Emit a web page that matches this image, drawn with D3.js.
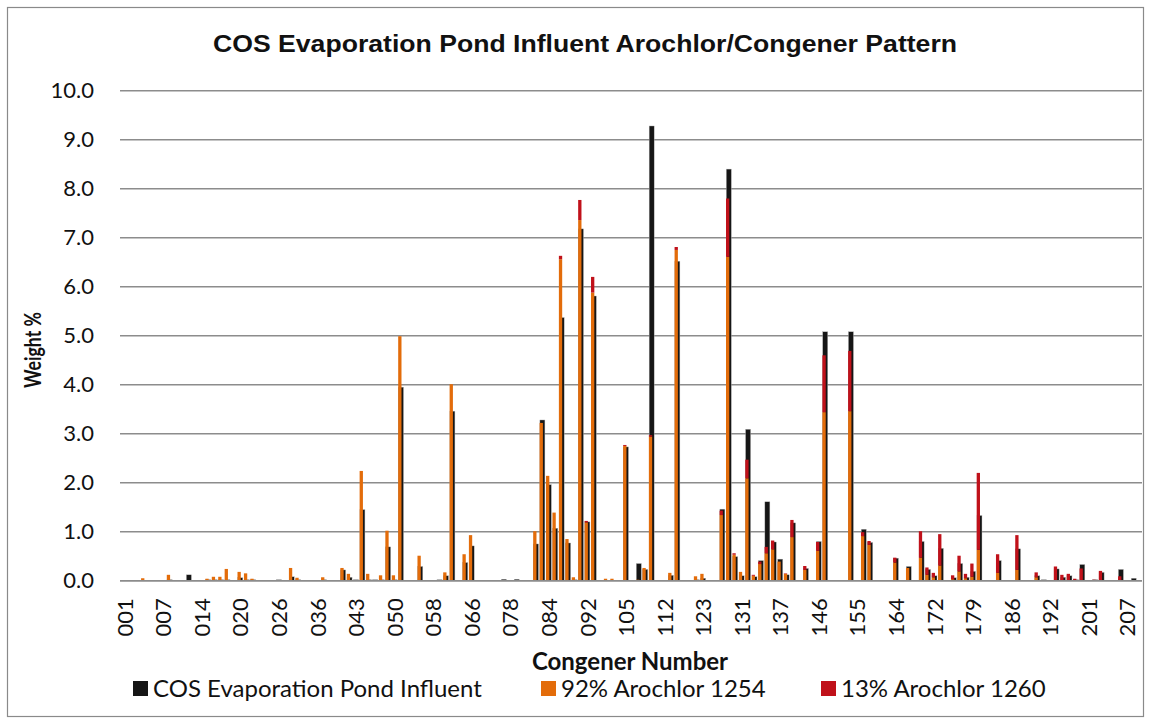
<!DOCTYPE html>
<html>
<head>
<meta charset="utf-8">
<script src="https://cdn.jsdelivr.net/npm/d3@7"></script>
<style>
  body { margin: 0; background: #fff; }
  text { font-family: Lato, "Open Sans", sans-serif; fill: #111; }
</style>
</head>
<body>
<div id="container"></div>
<script>
/* CONSTANTS AND GLOBALS */
const width = 1151,
  height = 724,
  margin = { top: 90.7, bottom: 143.3, left: 120, right: 9 }

// congener labels (co-eluting groups labelled by their first congener)
const congeners = [
  "001","002","003","004","005","006","007","008","009","010","011","012",
  "014","015","016","017","018","019","020","021","022","023","024","025",
  "026","027","031","032","034","035","036","037","038","039","040","042",
  "043","044","045","046","048","049","050","052","054","055","056","057",
  "058","059","060","061","063","064","066","067","068","072","073","077",
  "078","079","080","081","082","083","084","085","086","088","089","090",
  "092","093","094","096","103","104","105","106","107","109","110","111",
  "112","114","118","120","121","122","123","126","127","128","129","130",
  "131","132","133","134","135","136","137","139","141","142","144","145",
  "146","147","148","150","152","153","155","156","158","159","161","162",
  "164","165","167","169","170","171","172","174","175","176","177","178",
  "179","180","181","182","183","184","186","187","188","189","190","191",
  "192","194","195","196","197","198","201","202","203","204","205","206",
  "207","208","209"
];

// COS Evaporation Pond Influent, weight %
const influent = [
  0, 0, 0, 0.01, 0, 0, 0, 0.02, 0, 0, 0.12, 0,
  0, 0.02, 0.02, 0.02, 0.02, 0, 0.06, 0.02, 0.02, 0, 0, 0,
  0.02, 0, 0.08, 0.02, 0, 0, 0, 0.02, 0, 0, 0.22, 0.07,
  0.02, 1.45, 0.02, 0.02, 0.02, 0.69, 0.02, 3.95, 0, 0, 0.29, 0,
  0, 0.02, 0.10, 3.46, 0, 0.37, 0.71, 0, 0, 0, 0, 0.03,
  0, 0.03, 0, 0, 0.75, 3.28, 1.96, 1.07, 5.37, 0.77, 0.02, 7.18,
  1.20, 5.81, 0.01, 0.01, 0.01, 0, 2.73, 0, 0.35, 0.23, 9.28, 0,
  0, 0.11, 6.52, 0, 0, 0.02, 0.05, 0, 0.01, 1.46, 8.40, 0.49,
  0.10, 3.09, 0.08, 0.41, 1.61, 0.79, 0.44, 0.12, 1.18, 0, 0.25, 0,
  0.80, 5.08, 0, 0, 0, 5.08, 0, 1.05, 0.78, 0.01, 0, 0.01,
  0.46, 0, 0.29, 0, 0.80, 0.23, 0.10, 0.66, 0.01, 0.06, 0.35, 0.07,
  0.19, 1.33, 0.01, 0, 0.41, 0, 0, 0.65, 0, 0.01, 0.10, 0.02,
  0, 0.24, 0.07, 0.10, 0.02, 0.33, 0.01, 0.02, 0.17, 0, 0.01, 0.23,
  0, 0.05, 0
];

// 92% Arochlor 1254 contribution, weight %
const aroclor1254 = [
  0, 0, 0, 0.05, 0, 0, 0, 0.12, 0, 0, 0, 0,
  0, 0.04, 0.08, 0.08, 0.24, 0, 0.18, 0.15, 0.04, 0, 0, 0,
  0.01, 0, 0.26, 0.06, 0, 0, 0, 0.07, 0, 0, 0.26, 0.14,
  0, 2.24, 0.14, 0, 0.11, 1.02, 0.11, 4.99, 0, 0, 0.51, 0,
  0, 0, 0.17, 4.01, 0, 0.54, 0.93, 0, 0, 0, 0, 0,
  0, 0, 0, 0, 1.01, 3.22, 2.14, 1.39, 6.56, 0.85, 0.07, 7.36,
  1.19, 5.88, 0, 0.04, 0.04, 0, 2.75, 0, 0.02, 0.26, 2.94, 0,
  0, 0.16, 6.75, 0, 0, 0.09, 0.14, 0, 0, 1.34, 6.61, 0.53,
  0.18, 2.09, 0.10, 0.34, 0.56, 0.64, 0.39, 0.14, 0.89, 0, 0.22, 0,
  0.61, 3.44, 0, 0, 0, 3.46, 0, 0.91, 0.73, 0, 0, 0,
  0.37, 0, 0.26, 0, 0.47, 0.12, 0.07, 0.31, 0, 0.03, 0.19, 0.05,
  0.08, 0.63, 0, 0, 0.16, 0, 0, 0.22, 0, 0, 0.07, 0,
  0, 0.01, 0, 0, 0, 0, 0, 0, 0, 0, 0, 0,
  0, 0, 0
];

// 13% Arochlor 1260 contribution, weight % (stacked on 1254)
const aroclor1260 = [
  0, 0, 0, 0, 0, 0, 0, 0, 0, 0, 0, 0,
  0, 0, 0, 0, 0, 0, 0, 0, 0, 0, 0, 0,
  0, 0, 0, 0, 0, 0, 0, 0, 0, 0, 0, 0,
  0, 0, 0, 0, 0, 0, 0, 0, 0, 0, 0, 0,
  0, 0, 0, 0, 0, 0, 0, 0, 0, 0, 0, 0,
  0, 0, 0, 0, 0, 0, 0, 0, 0.07, 0, 0, 0.41,
  0.03, 0.32, 0, 0, 0, 0, 0.02, 0, 0, 0, 0.03, 0,
  0, 0, 0.06, 0, 0, 0, 0, 0, 0, 0.09, 1.19, 0.03,
  0, 0.38, 0.02, 0.05, 0.13, 0.18, 0, 0.01, 0.35, 0, 0.08, 0,
  0.18, 1.16, 0, 0, 0, 1.23, 0, 0.08, 0.08, 0, 0, 0,
  0.10, 0, 0, 0, 0.54, 0.15, 0.09, 0.64, 0, 0.08, 0.32, 0.09,
  0.27, 1.57, 0, 0, 0.38, 0, 0, 0.71, 0, 0, 0.10, 0,
  0, 0.28, 0.12, 0.14, 0.04, 0.25, 0.01, 0.02, 0.20, 0, 0, 0.09,
  0, 0, 0
];

const yTicks = [0, 1, 2, 3, 4, 5, 6, 7, 8, 9, 10];
const seriesNames = ["COS Evaporation Pond Influent", "92% Arochlor 1254", "13% Arochlor 1260"];
const colors = ["#161616", "#E36C0A", "#C0111A"];

const data = congeners.map((c, i) => ({
  congener: c,
  influent: influent[i],
  a1254: aroclor1254[i],
  a1260: aroclor1260[i]
}));

// SCALES
const xScale = d3.scaleBand()
  .domain(congeners)
  .range([margin.left, width - margin.right])
  .padding(0)

const yScale = d3.scaleLinear()
  .domain([0, 10])
  .range([height - margin.bottom, margin.top])

// CREATE SVG ELEMENT
const svg = d3.select("#container")
  .append("svg")
  .attr("width", width)
  .attr("height", height)

// chart border
svg.append("rect")
  .attr("x", 7.5).attr("y", 7.5)
  .attr("width", width - 15).attr("height", height - 15)
  .attr("fill", "none")
  .attr("stroke", "#8a8a8a")
  .attr("stroke-width", 1.2)

// title
svg.append("text")
  .attr("x", 585)
  .attr("y", 52)
  .attr("text-anchor", "middle")
  .attr("textLength", 744)
  .attr("lengthAdjust", "spacingAndGlyphs")
  .style("font-family", "'Liberation Sans', Arial, sans-serif")
  .style("font-weight", "bold")
  .style("font-size", "24px")
  .text("COS Evaporation Pond Influent Arochlor/Congener Pattern")

// GRIDLINES
svg.append("g")
  .selectAll("line")
  .data(yTicks)
  .join("line")
  .attr("x1", margin.left)
  .attr("x2", width - margin.right)
  .attr("y1", d => yScale(d))
  .attr("y2", d => yScale(d))
  .attr("stroke", "#8c8c8c")
  .attr("stroke-width", 1.6)

// BUILD AND CALL AXES
const yAxis = d3.axisLeft(yScale)
  .tickValues(yTicks)
  .tickFormat(d3.format(".1f"))
  .tickSize(0)
  .tickPadding(26);

const yAxisGroup = svg.append("g")
  .attr("class", "yAxis")
  .attr("transform", `translate(${margin.left}, 0)`)
  .call(yAxis);
yAxisGroup.select(".domain").remove();
yAxisGroup.selectAll("text")
  .style("font-family", "Lato, sans-serif")
  .style("font-size", "22px")
  .attr("fill", "#111");

const xAxis = d3.axisBottom(xScale)
  .tickValues(congeners.filter((d, i) => i % 6 === 0))
  .tickSize(0);

const xAxisGroup = svg.append("g")
  .attr("class", "xAxis")
  .attr("transform", `translate(0, ${height - margin.bottom})`)
  .call(xAxis);
xAxisGroup.select(".domain").remove();
xAxisGroup.selectAll("text")
  .attr("transform", "rotate(-90)")
  .attr("x", -17.5)
  .attr("y", 1.8)
  .attr("dy", "0.35em")
  .attr("text-anchor", "end")
  .style("font-family", "Lato, sans-serif")
  .style("font-size", "22px")
  .attr("fill", "#111");

// DRAW BARS
const bars = svg.append("g");

// influent, behind
bars.selectAll("rect.inf")
  .data(data)
  .join("rect")
  .attr("class", "inf")
  .attr("x", d => xScale(d.congener) + 2.1)
  .attr("width", 5.0)
  .attr("y", d => yScale(d.influent))
  .attr("height", d => yScale(0) - yScale(d.influent))
  .attr("fill", colors[0])
  .attr("stroke", "#b5b5b5")
  .attr("stroke-width", 0.4)

// stacked arochlor pattern, in front
const stack = d3.stack().keys(["a1254", "a1260"])(data);

bars.selectAll("g.layer")
  .data(stack)
  .join("g")
  .attr("class", "layer")
  .attr("fill", (d, i) => colors[i + 1])
  .selectAll("rect")
  .data(d => d)
  .join("rect")
  .attr("x", d => xScale(d.data.congener) + 1.8)
  .attr("width", 3.3)
  .attr("y", d => yScale(d[1]))
  .attr("height", d => yScale(d[0]) - yScale(d[1]))

// baseline
svg.append("line")
  .attr("x1", margin.left)
  .attr("x2", width - margin.right)
  .attr("y1", yScale(0))
  .attr("y2", yScale(0))
  .attr("stroke", "#8c8c8c")
  .attr("stroke-width", 1.6)

// AXIS TITLES
svg.append("text")
  .attr("transform", `translate(33, 350) rotate(-90)`)
  .attr("text-anchor", "middle")
  .attr("dy", "0.35em")
  .attr("textLength", 76)
  .attr("lengthAdjust", "spacingAndGlyphs")
  .style("font-weight", "bold")
  .style("font-size", "22px")
  .text("Weight %")

svg.append("text")
  .attr("x", 630)
  .attr("y", 670)
  .attr("text-anchor", "middle")
  .style("font-weight", "bold")
  .style("font-size", "24px")
  .text("Congener Number")

// LEGEND
const legendX = [133, 541, 821];
const legend = svg.append("g")
  .selectAll("g")
  .data(seriesNames)
  .join("g")
  .attr("transform", (d, i) => `translate(${legendX[i]}, 681)`)

legend.append("rect")
  .attr("width", 15)
  .attr("height", 15)
  .attr("fill", (d, i) => colors[i])

legend.append("text")
  .attr("x", 20)
  .attr("y", 16)
  .style("font-size", "24px")
  .text(d => d)
</script>
</body>
</html>
